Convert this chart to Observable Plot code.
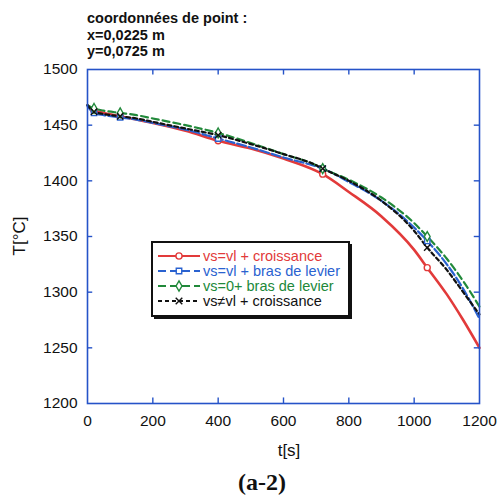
<!DOCTYPE html>
<html><head><meta charset="utf-8">
<script src="https://cdn.jsdelivr.net/npm/d3@7"></script>
<script src="https://cdn.jsdelivr.net/npm/@observablehq/plot@0.6"></script>
<style>body{margin:0;background:#fff;} svg{display:block;}</style>
</head><body><div id="chart"></div>
<script>
const times = [0,20,50,100,150,200,300,400,500,600,700,720,800,900,1000,1040,1100,1150,1200];
const redVals   = [1468,1463,1461,1458,1455,1452,1445,1436,1429,1420,1409,1406,1390,1368,1338,1322,1298,1275,1250];
const blueVals  = [1467,1461,1459,1457,1455,1452,1446,1438,1430,1421,1413,1411,1399,1382,1358,1346,1325,1303,1276];
const greenVals = [1468,1465,1463,1461,1459,1456,1450,1443,1434,1424,1414,1411,1401,1385,1362,1350,1330,1310,1287];
const blackVals = [1468,1462,1460,1458,1456,1453,1447,1441,1433,1424,1414,1411,1400,1382,1355,1340,1320,1300,1280];
const markerTimes = [20,100,400,720,1040];
const seriesNames = ["vs=vl + croissance","vs=vl + bras de levier","vs=0+ bras de levier","vs≠vl + croissance"];
const xTicks = [0,200,400,600,800,1000,1200];
const yTicks = [1200,1250,1300,1350,1400,1450,1500];
const titleLines = ["coordonnées de point :","x=0,0225 m","y=0,0725 m"];

const colors = ["#e23a3a","#2a62d0","#21893a","#111111"];
const dashes = [null,"9,3","7,4","4,3"];
const widths = [2.6,2.2,2.2,2.2];
const symbols = ["circle","square","diamond","times"];
const allVals = [redVals,blueVals,greenVals,blackVals];

const series = allVals.map((vals,i)=>times.map((t,j)=>({t, T: vals[j], s: i})));
const frameBlue = "#2553c8";
const font = "'Liberation Sans', Arial, sans-serif";

const marks = [];
series.forEach((d,i)=>{
  marks.push(Plot.line(d,{x:"t",y:"T",stroke:colors[i],strokeWidth:widths[i],strokeDasharray:dashes[i],curve:"monotone-x"}));
});
series.forEach((d,i)=>{
  marks.push(Plot.dot(d.filter(p=>markerTimes.includes(p.t)),{x:"t",y:"T",stroke:colors[i],fill:i===3?"none":"white",strokeWidth:1.4,r:3,symbol:()=>symbols[i]}));
});
marks.push(Plot.frame({stroke:frameBlue,strokeWidth:1.6}));
const innerX = xTicks.slice(1,-1), innerY = yTicks.slice(1,-1);
marks.push(Plot.ruleX(innerX,{y1:1200,y2:1205,stroke:frameBlue,strokeWidth:1.4}));
marks.push(Plot.ruleX(innerX,{y1:1500,y2:1495,stroke:frameBlue,strokeWidth:1.4}));
marks.push(Plot.ruleY(innerY,{x1:0,x2:16,stroke:frameBlue,strokeWidth:1.4}));
marks.push(Plot.ruleY(innerY,{x1:1200,x2:1184,stroke:frameBlue,strokeWidth:1.4}));
marks.push(Plot.axisX(xTicks,{tickSize:0,tickPadding:11,label:null,fontSize:15.5,tickFormat:d=>String(d)}));
marks.push(Plot.axisY(yTicks,{tickSize:0,tickPadding:10,label:null,fontSize:15.5,tickFormat:d=>String(d)}));

const chart = Plot.plot({
  width:497,height:497,
  marginLeft:87,marginRight:18,marginTop:69,marginBottom:94,
  style:{fontFamily:font,color:"#111",background:"white"},
  x:{domain:[0,1200]},
  y:{domain:[1200,1500]},
  marks
});
document.getElementById("chart").appendChild(chart);

const svg = d3.select(chart);
// title
titleLines.forEach((t,i)=>{
  svg.append("text").attr("x",87).attr("y",23+i*16.5).attr("text-anchor","start").attr("font-family",font).attr("font-weight","bold").attr("font-size",14.5).attr("fill","#111").text(t);
});
// axis labels
svg.append("text").attr("x",289).attr("y",456).attr("text-anchor","middle").attr("font-family",font).attr("font-size",17).attr("fill","#111").text("t[s]");
svg.append("text").attr("transform","translate(25,236) rotate(-90)").attr("text-anchor","middle").attr("font-family",font).attr("font-size",17).attr("fill","#111").text("T[°C]");
// caption
svg.append("text").attr("x",262).attr("y",490).attr("text-anchor","middle").attr("font-family","'Liberation Serif', 'Times New Roman', serif").attr("font-weight","bold").attr("font-size",24).attr("fill","#111").text("(a-2)");

// legend
const lg = svg.append("g");
lg.append("rect").attr("x",154).attr("y",244).attr("width",198).attr("height",75).attr("fill","#111");
lg.append("rect").attr("x",152).attr("y",242).attr("width",197).attr("height",74).attr("fill","white").attr("stroke","#111").attr("stroke-width",2);
seriesNames.forEach((name,i)=>{
  const y = 256 + i*15;
  lg.append("line").attr("x1",158).attr("x2",200).attr("y1",y).attr("y2",y).attr("stroke",colors[i]).attr("stroke-width",2.2).attr("stroke-dasharray",dashes[i]===null?null:(i===3?"4,3":"8,4"));
  const sym = d3.symbol().type({circle:d3.symbolCircle,square:d3.symbolSquare,diamond:d3.symbolDiamond,times:d3.symbolTimes}[symbols[i]]).size(30);
  lg.append("path").attr("d",sym()).attr("transform",`translate(179,${y})`).attr("fill",i===3?"none":"white").attr("stroke",colors[i]).attr("stroke-width",1.4);
  lg.append("text").attr("x",203).attr("y",y+5).attr("text-anchor","start").attr("font-family",font).attr("font-size",14.5).attr("fill",colors[i]).text(name);
});
</script></body></html>
